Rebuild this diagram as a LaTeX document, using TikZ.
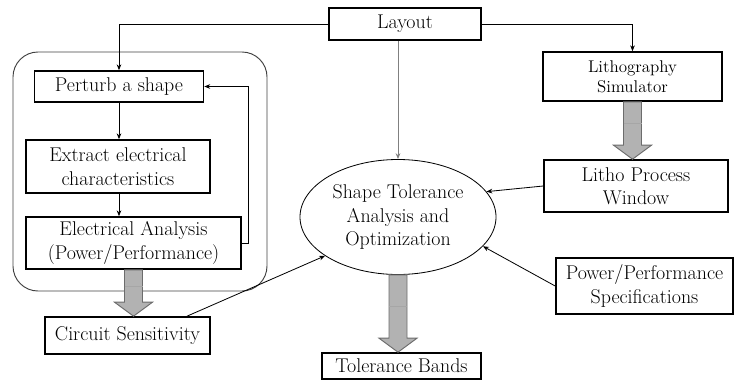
\documentclass[tikz,border=0pt]{standalone}
\usepackage{tikz}
\usetikzlibrary{shapes.geometric, arrows.meta, calc}

% gray block arrow pointing down, from #1 to the level of #2
\newcommand{\fatdown}[2]{%
  \draw[fatarrow] ($(#1)+(-9,0)$) -- ($(#1|-#2)+(-9,-14)$) -- ($(#1|-#2)+(-19,-14)$)
    -- (#1|-#2) -- ($(#1|-#2)+(19,-14)$) -- ($(#1|-#2)+(9,-14)$) -- ($(#1)+(9,0)$) -- cycle;
  \draw[gray!70] ($(#1)!0.5!(#1|-#2)+(-9,-7)$) -- ($(#1)!0.5!(#1|-#2)+(9,-7)$);}

\begin{document}
\begin{tikzpicture}[
    x=0.03cm, y=-0.03cm,
    stepbox/.style={
      draw,
      line width=1.4pt,
      align=center,
      inner sep=0pt,
      font=\fontsize{17}{20}\selectfont
    },
    container/.style={
      draw=black!75,
      line width=0.8pt,
      rounded corners=0.75cm
    },
    link/.style={
      -{Stealth[length=5pt,width=4pt]},
      line width=0.7pt
    },
    fatarrow/.style={
      draw=gray!85!black,
      fill=gray!60,
      line width=0.8pt
    }
  ]
    \useasboundingbox (0,0) rectangle (735,381);

    \node[container, minimum width=7.62cm, minimum height=7.17cm] (loop) at (140,171.5) {};

    \node[stepbox, minimum width=4.56cm, minimum height=0.96cm] (layout) at (405,24) {Layout};
    \node[stepbox, minimum width=5.07cm, minimum height=0.93cm] (perturb) at (119,86.5) {Perturb a shape};
    \node[stepbox, minimum width=5.52cm, minimum height=1.59cm] (extract) at (118,166.5) {Extract electrical\\characteristics};
    \node[stepbox, minimum width=6.45cm, minimum height=1.56cm] (elec) at (133.5,243) {Electrical Analysis\\(Power/Performance)};
    \node[stepbox, minimum width=4.95cm, minimum height=1.11cm] (circuit) at (127.5,335.5) {Circuit Sensitivity};
    \node[stepbox, minimum width=5.37cm, minimum height=1.47cm, font=\fontsize{14.5}{17}\selectfont] (litho) at (632.5,76.5) {Lithography\\Simulator};
    \node[stepbox, minimum width=5.52cm, minimum height=1.56cm] (window) at (636,186) {Litho Process\\Window};
    \node[stepbox, ellipse, line width=0.7pt, minimum width=5.88cm, minimum height=3.45cm] (opt) at (398,217) {Shape Tolerance\\Analysis and\\Optimization};
    \node[stepbox, minimum width=4.77cm, minimum height=0.78cm] (bands) at (401.5,366) {Tolerance Bands};
    \node[stepbox, minimum width=5.31cm, minimum height=1.68cm] (spec) at (644.5,286) {Power/Performance\\Specifications};

    % thin connectors
    \draw[link] (layout.west) -| (perturb.north);
    \draw[link] (layout.east) -| (litho.north);
    \draw[link, draw=gray] (opt.north |- layout.south) -- (opt.north);
    \draw[link] (perturb.south) -- (perturb.south |- extract.north);
    \draw[link] (perturb.south |- extract.south) -- (perturb.south |- elec.north);
    \draw[link] (elec.east) -- ++(7,0) |- (perturb.east);
    \draw[link] (circuit.18) -- (opt.208);
    \draw[link] (window.west) -- (opt.16);
    \draw[link] (spec.west) -- (opt.341);

    % block arrows
    \fatdown{elec.south}{circuit.north}
    \fatdown{litho.south}{window.north}
    \fatdown{opt.south}{bands.north}
  \end{tikzpicture}
\end{document}
